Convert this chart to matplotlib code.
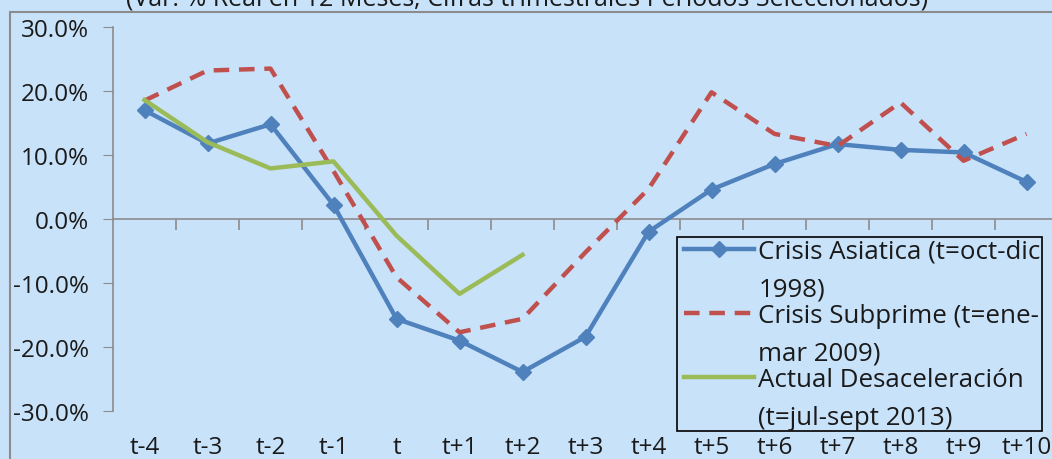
import matplotlib.pyplot as plt
from matplotlib.patches import Rectangle
from matplotlib.legend_handler import HandlerLine2D
from matplotlib.transforms import Affine2D
from matplotlib.ticker import PercentFormatter
import numpy as np

periods = ['t-4', 't-3', 't-2', 't-1', 't', 't+1', 't+2', 't+3', 't+4',
           't+5', 't+6', 't+7', 't+8', 't+9', 't+10']
asiatica = [17.0, 11.8, 14.8, 2.2, -15.6, -19.0, -23.9, -18.4, -2.0,
            4.6, 8.6, 11.7, 10.8, 10.4, 5.8]
subprime = [18.5, 23.2, 23.5, 7.5, -9.1, -17.7, -15.6, -5.2, 4.7,
            19.8, 13.3, 11.4, 18.2, 9.1, 13.3]
actual = [18.6, 12.0, 7.9, 9.0, -2.6, -11.7, -5.6]

labels = ['Crisis Asiatica (t=oct-dic\n1998)',
          'Crisis Subprime (t=ene-\nmar 2009)',
          'Actual Desaceleración\n(t=jul-sept 2013)']
title = '(Var. % Real en 12 Meses; Cifras trimestrales Períodos Seleccionados)'

bg = '#c8e2fa'
grey = '#8c8c8c'
ink = '#1a1a1a'
plt.rcParams['font.family'] = ['Open Sans', 'DejaVu Sans']
plt.rcParams['axes.unicode_minus'] = False

LEG_FS = 18.6        # legend font size, pt
LEG_LS = 1.68        # line spacing inside a two-line label


class FirstLineHandler(HandlerLine2D):
    """Put the legend line next to the first line of a two-line label."""
    def create_artists(self, legend, orig_handle, xdescent, ydescent,
                       width, height, fontsize, trans):
        artists = super().create_artists(legend, orig_handle, xdescent,
                                          ydescent, width, height,
                                          fontsize, trans)
        dy = 0.5 * LEG_LS * 1.2 * fontsize - 3.5
        shift = Affine2D().translate(4, dy)
        for a in artists:
            a.set_transform(shift + a.get_transform())
        return artists


fig = plt.figure(figsize=(10.52, 4.6), dpi=100, facecolor=bg)
fig.patches.append(Rectangle((10 / 1052, -0.1), 1.1, 1 - 13 / 460 + 0.1,
                             transform=fig.transFigure, fill=False,
                             edgecolor=grey, lw=1.5))
fig.text(527 / 1052, 1 - 6 / 460, title, ha='center', va='baseline',
         fontsize=18, color=ink)

ax = fig.add_axes([113 / 1052, 48 / 460, 945 / 1052, 384 / 460])
ax.set_facecolor(bg)
x = np.arange(len(periods))

ax.plot(x, asiatica, color='#4f81bd', lw=3.2, marker='D', ms=8,
        label=labels[0])
ax.plot(x, subprime, color='#c0504d', lw=3.2, dashes=(3.5, 2.2),
        label=labels[1])
ax.plot(x[:len(actual)], actual, color='#9bbb59', lw=3.2, label=labels[2])

ax.set_xlim(-0.5, len(periods) - 0.5)
ax.set_ylim(-30, 30)
ax.set_yticks(np.arange(-30, 31, 10))
ax.yaxis.set_major_formatter(PercentFormatter(decimals=1))
ax.tick_params(axis='y', direction='out', length=7, color=grey,
               labelsize=17.5, labelcolor=ink, pad=10)
ax.set_xticks(x, periods)
ax.tick_params(axis='x', length=0, labelsize=17.5, labelcolor=ink, pad=17)
for side in ['top', 'right', 'bottom']:
    ax.spines[side].set_visible(False)
ax.spines['left'].set_color(grey)
ax.spines['left'].set_linewidth(1.2)

# zero line with category separators
zero = ax.secondary_xaxis(0.5)
zero.set_xticks(np.arange(0.5, len(periods) - 1, 1), [])
zero.tick_params(direction='in', length=8, color=grey, width=1.2)
for sp in zero.spines.values():
    sp.set_color(grey)
    sp.set_linewidth(1.2)

leg = fig.legend(loc='upper left', bbox_to_anchor=(677 / 1052, 1 - 238 / 460),
                 frameon=True, fancybox=False, fontsize=LEG_FS,
                 handlelength=2.7, handletextpad=0.4, labelspacing=0.05,
                 borderpad=0.05, borderaxespad=0,
                 handler_map={plt.Line2D: FirstLineHandler()})
leg.get_frame().set_facecolor(bg)
leg.get_frame().set_edgecolor('black')
leg.get_frame().set_linewidth(1.2)
leg.get_frame().set_alpha(1)
for t in leg.get_texts():
    t.set_linespacing(LEG_LS)
    t.set_color(ink)

fig.savefig('out.png', dpi=100, facecolor=bg)
